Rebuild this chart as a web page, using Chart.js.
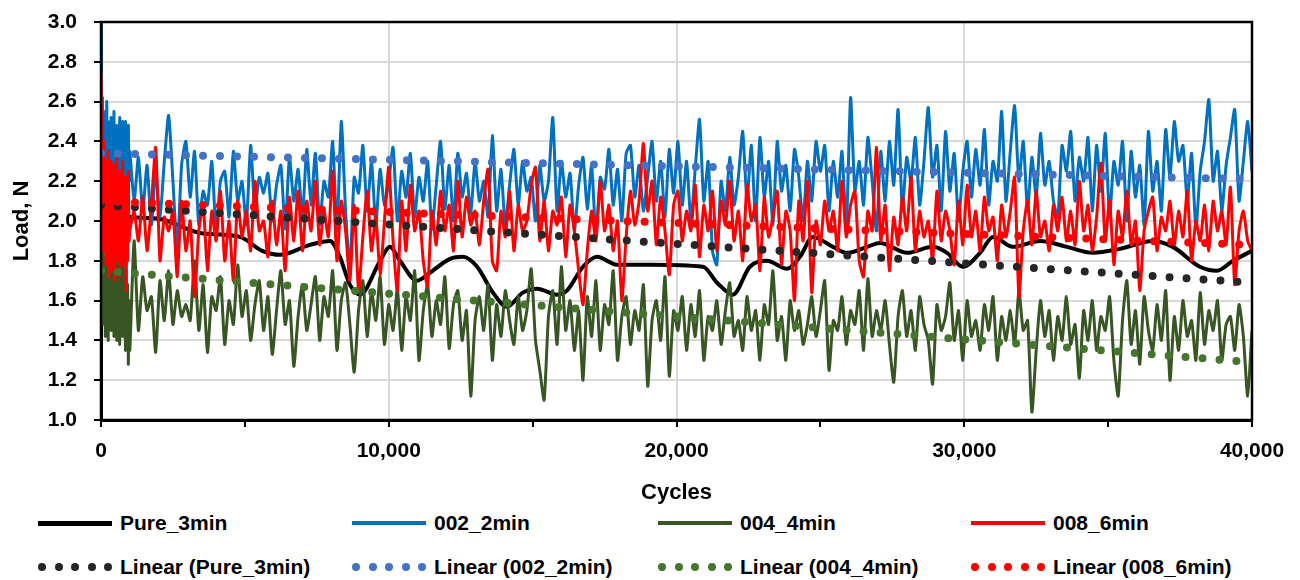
<!DOCTYPE html>
<html>
<head>
<meta charset="utf-8">
<script src="https://cdn.jsdelivr.net/npm/chart.js@4.4.1/dist/chart.umd.min.js"></script>
<style>
  body { margin: 0; background: #fff; font-family: "Liberation Sans", Arial, sans-serif; }
  #wrap { position: relative; width: 1300px; height: 580px; }
  canvas { display: block; }
  .lg { position: absolute; display: flex; align-items: center; height: 24px; font-weight: bold; font-size: 21px; color: #000; white-space: nowrap; }
  .lg .sample { width: 74px; display: flex; align-items: center; justify-content: space-between; margin-right: 8px; }
  .lg .dot { width: 8px; height: 8px; border-radius: 50%; }
</style>
</head>
<body>
<div id="wrap">
  <canvas id="loadChart" width="1300" height="510"></canvas>
</div>
<script>
// sample grid: dense during run-in, then every 150 cycles
const cycles = [];
for (let c = 0; c < 1000; c += 25) cycles.push(c);
for (let c = 1000; c <= 40000; c += 150) cycles.push(c);

// Pure_3min (smooth curve)
const pureCycles = [0, 1000, 2050, 3440, 4830, 5600, 6220, 7260, 7960, 8300, 8650, 9000, 9700, 10040,
  10390, 10980, 11430, 12130, 12580, 13070, 13620, 14110, 14660, 15150, 15850, 16190, 16750, 17240,
  17930, 19080, 20920, 21410, 21960, 22550, 23140, 23840, 24290, 24740, 25440, 25920, 26620, 27070,
  28010, 28910, 29400, 29950, 30550, 31000, 31690, 32630, 33570, 34470, 35410, 36560, 37250, 38190,
  38780, 39340, 40000];
const pureLoad = [2.05, 2.02, 2.01, 1.94, 1.92, 1.85, 1.83, 1.88, 1.90, 1.82, 1.68, 1.63, 1.80, 1.87,
  1.80, 1.70, 1.74, 1.81, 1.82, 1.77, 1.64, 1.57, 1.64, 1.66, 1.63, 1.65, 1.77, 1.82,
  1.78, 1.78, 1.77, 1.69, 1.63, 1.77, 1.80, 1.76, 1.82, 1.92, 1.87, 1.84, 1.87, 1.89,
  1.84, 1.87, 1.84, 1.77, 1.84, 1.92, 1.87, 1.90, 1.87, 1.84, 1.86, 1.90, 1.87, 1.77,
  1.75, 1.80, 1.85];

// 002_2min
const load002 = [
  3.00, 2.45, 2.62, 2.20, 2.55, 2.10, 2.48, 2.25, 2.60, 2.05,
  2.50, 2.18, 2.42, 1.98, 2.52, 2.15, 2.38, 2.02, 2.55, 2.20,
  2.45, 1.95, 2.48, 2.10, 2.40, 2.00, 2.52, 2.15, 2.35, 1.92,
  2.50, 2.08, 2.42, 2.00, 2.50, 2.12, 2.45, 1.98, 2.48, 2.20,
  2.35, 2.10, 2.32, 2.05, 2.28, 1.98, 2.25, 2.02, 2.30, 2.53,
  2.20, 1.85, 2.28, 2.40, 2.12, 2.35, 1.98, 2.15, 2.08, 2.30,
  1.95, 2.20, 2.25, 2.02, 2.35, 2.10, 2.20, 1.98, 2.38, 2.05,
  2.22, 2.14, 2.24, 2.00, 2.18, 2.28, 1.96, 2.32, 2.10, 2.26,
  2.02, 2.36, 2.08, 2.34, 1.98, 2.20, 2.12, 2.40, 1.95, 2.50,
  2.05, 1.76, 2.22, 2.14, 2.38, 2.05, 2.30, 1.98, 2.26, 2.08,
  2.20, 2.37, 2.00, 2.25, 2.12, 2.34, 2.02, 2.22, 2.10, 2.30,
  1.96, 2.18, 2.40, 2.06, 2.28, 2.00, 2.34, 2.12, 2.24, 2.04,
  2.30, 2.10, 2.20, 2.02, 2.43, 2.05, 2.26, 1.98, 2.18, 2.36,
  2.08, 2.30, 2.15, 2.22, 2.00, 2.28, 2.10, 2.20, 2.52, 2.05,
  2.30, 2.12, 2.24, 1.95, 2.18, 2.32, 2.06, 2.28, 1.92, 2.22,
  2.16, 2.36, 2.08, 2.26, 2.00, 2.34, 2.38, 2.12, 2.28, 2.05,
  2.22, 2.40, 2.10, 2.30, 2.02, 2.36, 2.14, 2.40, 2.08, 2.30,
  2.00, 2.26, 2.51, 2.10, 2.30, 1.85, 1.78, 2.20, 2.05, 2.32,
  2.08, 2.22, 2.45, 2.10, 2.38, 2.00, 2.42, 2.12, 2.30, 1.98,
  2.40, 2.15, 2.28, 2.05, 2.36, 2.22, 2.00, 2.30, 2.10, 2.40,
  2.25, 2.38, 2.05, 2.30, 2.12, 2.35, 1.96, 2.62, 2.15, 2.30,
  2.08, 2.42, 2.20, 1.95, 2.35, 2.10, 2.40, 2.18, 2.56, 2.05,
  2.32, 2.20, 2.42, 2.08, 2.30, 2.57, 2.22, 2.38, 2.05, 2.45,
  2.15, 2.34, 2.00, 2.25, 2.40, 2.12, 2.36, 2.18, 2.46, 2.08,
  2.30, 2.20, 2.55, 2.10, 2.35, 2.58, 2.20, 2.40, 2.05, 2.32,
  2.12, 2.44, 2.18, 2.30, 2.10, 2.02, 2.38, 2.25, 2.45, 2.10,
  2.32, 2.20, 2.42, 2.05, 2.38, 2.15, 2.44, 2.02, 2.30, 2.18,
  2.40, 2.00, 2.35, 2.12, 2.28, 1.98, 2.45, 2.15, 2.30, 2.05,
  2.46, 2.22, 2.50, 2.30, 2.38, 2.10, 2.34, 1.96, 2.25, 2.40,
  2.61, 2.20, 2.35, 2.05, 2.28, 2.42, 2.56, 2.10, 2.30, 2.50, 2.25
];

// 004_4min
const load004 = [
  1.55, 1.85, 1.48, 1.90, 1.60, 1.75, 1.42, 1.82, 1.55, 1.70,
  1.40, 1.88, 1.52, 1.72, 1.45, 1.80, 1.58, 1.68, 1.42, 1.85,
  1.50, 1.75, 1.40, 1.82, 1.55, 1.65, 1.38, 1.80, 1.48, 1.70,
  1.42, 1.78, 1.52, 1.62, 1.35, 1.75, 1.45, 1.68, 1.28, 1.60,
  1.35, 1.90, 1.45, 1.72, 1.55, 1.62, 1.34, 1.70, 1.50, 1.75,
  1.48, 1.65, 1.52, 1.58, 1.50, 1.80, 1.45, 1.68, 1.34, 1.62,
  1.55, 1.72, 1.38, 1.60, 1.48, 1.78, 1.52, 1.65, 1.40, 1.58,
  1.70, 1.45, 1.62, 1.33, 1.55, 1.75, 1.48, 1.60, 1.27, 1.52,
  1.68, 1.45, 1.58, 1.72, 1.40, 1.62, 1.52, 1.75, 1.35, 1.60,
  1.69, 1.48, 1.24, 1.55, 1.70, 1.42, 1.65, 1.50, 1.72, 1.38,
  1.58, 1.45, 1.66, 1.35, 1.62, 1.50, 1.75, 1.30, 1.55, 1.68,
  1.42, 1.60, 1.48, 1.72, 1.36, 1.58, 1.65, 1.40, 1.55, 1.12,
  1.50, 1.62, 1.45, 1.68, 1.30, 1.58, 1.42, 1.65, 1.50, 1.38,
  1.62, 1.45, 1.55, 1.76, 1.40, 1.25, 1.10, 1.52, 1.65, 1.38,
  1.77, 1.45, 1.60, 1.35, 1.55, 1.20, 1.62, 1.42, 1.70, 1.35,
  1.58, 1.48, 1.75, 1.30, 1.52, 1.62, 1.38, 1.55, 1.45, 1.68,
  1.17, 1.50, 1.60, 1.40, 1.72, 1.22, 1.55, 1.45, 1.62, 1.35,
  1.58, 1.42, 1.65, 1.30, 1.52, 1.45, 1.60, 1.38, 1.55, 1.69,
  1.42, 1.50, 1.35, 1.62, 1.45, 1.55, 1.30, 1.58, 1.48, 1.75,
  1.40, 1.52, 1.30, 1.60, 1.45, 1.55, 1.38, 1.48, 1.62, 1.42,
  1.55, 1.70, 1.25, 1.50, 1.45, 1.62, 1.38, 1.55, 1.48, 1.65,
  1.35, 1.71, 1.42, 1.55, 1.45, 1.60, 1.38, 1.19, 1.52, 1.65,
  1.42, 1.55, 1.35, 1.62, 1.48, 1.40, 1.18, 1.58, 1.45, 1.52,
  1.69, 1.40, 1.55, 1.30, 1.60, 1.42, 1.50, 1.35, 1.58, 1.45,
  1.62, 1.30, 1.52, 1.40, 1.55, 1.38, 1.65, 1.45, 1.50, 1.04,
  1.35, 1.60, 1.42, 1.55, 1.30, 1.52, 1.40, 1.62, 1.38, 1.48,
  1.21, 1.55, 1.40, 1.60, 1.35, 1.52, 1.45, 1.62, 1.30, 1.12,
  1.50, 1.70, 1.38, 1.55, 1.28, 1.62, 1.45, 1.35, 1.58, 1.40,
  1.65, 1.20, 1.52, 1.35, 1.60, 1.42, 1.50, 1.30, 1.64, 1.38,
  1.55, 1.45, 1.60, 1.30, 1.48, 1.52, 1.35, 1.58, 1.42, 1.12, 1.45
];

// 008_6min
const load008 = [
  2.75, 2.10, 2.55, 1.85, 2.40, 2.00, 2.30, 1.78, 2.25, 1.95,
  2.35, 1.72, 2.20, 1.90, 2.30, 1.75, 2.15, 2.05, 2.28, 1.70,
  2.22, 1.88, 2.32, 1.80, 2.18, 1.95, 2.25, 1.72, 2.20, 1.85,
  2.30, 1.78, 2.15, 1.92, 2.22, 1.65, 2.10, 1.80, 2.25, 1.90,
  1.95, 2.05, 1.90, 2.12, 1.85, 2.08, 2.37, 1.80, 2.02, 1.95,
  2.05, 1.72, 2.10, 1.85, 2.00, 1.62, 1.95, 2.08, 1.75, 2.05,
  1.90, 2.15, 1.80, 2.00, 1.70, 2.10, 1.92, 2.05, 1.85, 2.20,
  1.95, 2.00, 1.82, 2.10, 1.88, 2.05, 1.75, 2.12, 1.90, 2.15,
  1.85, 2.10, 1.95, 2.20, 1.88, 2.05, 1.92, 2.25, 1.80, 2.10,
  1.95, 1.70, 2.08, 1.65, 1.92, 2.15, 1.85, 2.02, 1.73, 2.00,
  2.27, 1.90, 1.65, 2.10, 1.85, 2.18, 1.95, 2.05, 1.80, 1.67,
  2.05, 1.88, 2.15, 1.95, 2.08, 1.85, 2.20, 1.92, 2.12, 1.98,
  2.05, 1.88, 2.10, 2.26, 1.80, 1.75, 2.05, 1.92, 2.15, 1.85,
  2.08, 1.95, 2.00, 2.18, 2.27, 1.90, 2.10, 1.85, 2.05, 1.98,
  2.12, 1.82, 2.08, 1.95, 1.75, 1.58, 1.85, 2.05, 1.90, 2.20,
  1.95, 2.08, 1.85, 2.00, 1.60, 1.92, 2.15, 1.98, 2.10, 2.39,
  2.05, 2.20, 1.88, 2.12, 1.95, 1.73, 2.08, 2.15, 1.90, 2.05,
  1.95, 2.18, 1.82, 2.08, 1.95, 2.15, 1.85, 2.10, 1.98, 2.20,
  1.90, 2.05, 1.80, 2.18, 2.00, 2.08, 1.75, 2.12, 1.92, 2.02,
  2.15, 1.78, 2.05, 1.95, 1.60, 2.10, 1.90, 2.20, 1.64, 2.00,
  1.88, 2.10, 1.95, 2.05, 1.85, 2.20, 1.92, 2.08, 2.15, 1.80,
  1.72, 2.05, 1.95, 2.37, 1.90, 2.08, 1.75, 2.02, 1.88, 2.12,
  1.95, 2.22, 1.85, 2.05, 1.92, 2.00, 1.80, 2.15, 1.90, 2.05,
  1.95, 1.78, 2.10, 1.88, 2.18, 1.92, 2.05, 1.85, 2.12, 1.95,
  2.02, 1.80, 2.08, 1.92, 2.05, 2.22, 1.62, 1.95, 2.10, 1.88,
  2.15, 1.92, 2.00, 1.85, 2.08, 1.95, 2.12, 1.90, 2.05, 1.88,
  2.20, 1.95, 2.08, 1.85, 2.02, 2.29, 1.90, 2.10, 1.78, 2.05,
  1.92, 2.15, 1.88, 2.00, 1.65, 1.95, 2.05, 2.12, 1.85, 2.02,
  1.95, 2.10, 1.88, 2.05, 1.92, 2.15, 1.80, 2.00, 1.90, 2.08,
  1.85, 2.10, 1.95, 2.05, 1.88, 2.17, 1.68, 1.95, 2.05, 1.90, 1.85
];

// linear trendlines, read at 0 and 40,000 cycles
const trendEnds = [0, 40000];
const trendPure = [2.08, 1.69];
const trend002 = [2.34, 2.21];
const trend004 = [1.75, 1.29];
const trend008 = [2.10, 1.88];

const pts = (xs, ys) => ys.map((y, i) => ({ x: xs[i], y: y }));

function series(label, xs, ys, color, width, order) {
  return { label, data: pts(xs, ys), borderColor: color, backgroundColor: color, borderWidth: width,
    pointRadius: 0, tension: 0.2, order: order, kind: 'line' };
}
function trend(label, ys, color, order) {
  return { label, data: pts(trendEnds, ys), borderColor: color, backgroundColor: color, borderWidth: 8,
    borderDash: [0, 17], borderCapStyle: 'round', pointRadius: 0, order: order, kind: 'dots' };
}

const pure = series('Pure_3min', pureCycles, pureLoad, '#000000', 4, 8);
pure.cubicInterpolationMode = 'monotone';

const datasets = [
  pure,
  series('002_2min', cycles, load002, '#0070C0', 3, 7),
  series('004_4min', cycles, load004, '#375623', 3, 6),
  series('008_6min', cycles, load008, '#FF0000', 3, 5),
  trend('Linear (Pure_3min)', trendPure, '#262626', 4),
  trend('Linear (002_2min)', trend002, '#4472C4', 3),
  trend('Linear (004_4min)', trend004, '#467530', 2),
  trend('Linear (008_6min)', trend008, '#FF0000', 1)
];

const frame = {
  id: 'frame',
  afterDatasetsDraw(chart) {
    const a = chart.chartArea, ctx = chart.ctx;
    ctx.save();
    ctx.strokeStyle = '#000';
    ctx.lineWidth = 2.5;
    ctx.strokeRect(a.left, a.top, a.right - a.left, a.bottom - a.top);
    ctx.restore();
  }
};

Chart.defaults.font.family = '"Liberation Sans", Arial, sans-serif';
Chart.defaults.font.weight = 'bold';
Chart.defaults.color = '#000';

new Chart(document.getElementById('loadChart').getContext('2d'), {
  type: 'line',
  data: { datasets },
  options: {
    responsive: false,
    animation: false,
    devicePixelRatio: 1,
    layout: { padding: { top: 22, right: 48, left: 0, bottom: 0 } },
    plugins: { legend: { display: false }, tooltip: { enabled: false } },
    scales: {
      x: {
        type: 'linear', min: 0, max: 40000,
        afterFit: s => { s.height = 90; },
        ticks: {
          stepSize: 5000, autoSkip: false, maxRotation: 0, padding: 12,
          font: { size: 21, weight: 'bold' },
          callback: v => v % 10000 === 0 ? v.toLocaleString('en-US') : ''
        },
        grid: {
          color: c => (c.tick && c.tick.value % 10000 === 0) ? '#d9d9d9' : 'rgba(0,0,0,0)',
          lineWidth: 2, tickLength: 7, tickColor: '#000', tickWidth: 2
        },
        border: { color: '#000', width: 3 },
        title: { display: true, text: 'Cycles', font: { size: 22, weight: 'bold' }, padding: { top: 0, bottom: 4 } }
      },
      y: {
        min: 1, max: 3,
        afterFit: s => { s.width = 101; s.paddingTop = 12; s.paddingBottom = 12; },
        ticks: { stepSize: 0.2, padding: 17, font: { size: 21, weight: 'bold' }, callback: v => v.toFixed(1) },
        grid: { color: '#d9d9d9', lineWidth: 2, tickLength: 7, tickColor: '#000', tickWidth: 2 },
        border: { color: '#000', width: 3 },
        title: { display: true, text: 'Load, N', font: { size: 22, weight: 'bold' }, padding: { top: 9, bottom: 0 } }
      }
    }
  },
  plugins: [frame]
});

// legend below the plot, two rows of four
const legendCols = [38, 352, 658, 971];
const legendRows = [511, 555];
const wrap = document.getElementById('wrap');
datasets.forEach((d, i) => {
  const item = document.createElement('div');
  item.className = 'lg';
  item.style.left = legendCols[i % 4] + 'px';
  item.style.top = legendRows[Math.floor(i / 4)] + 'px';
  const sample = document.createElement('span');
  sample.className = 'sample';
  if (d.kind === 'dots') {
    for (let k = 0; k < 5; k++) {
      const dot = document.createElement('span');
      dot.className = 'dot';
      dot.style.background = d.borderColor;
      sample.appendChild(dot);
    }
  } else {
    const bar = document.createElement('span');
    bar.style.cssText = 'display:block;width:74px;height:' + (d.borderWidth + 1) + 'px;background:' + d.borderColor;
    sample.appendChild(bar);
  }
  item.appendChild(sample);
  item.appendChild(document.createTextNode(d.label));
  wrap.appendChild(item);
});
</script>
</body>
</html>
